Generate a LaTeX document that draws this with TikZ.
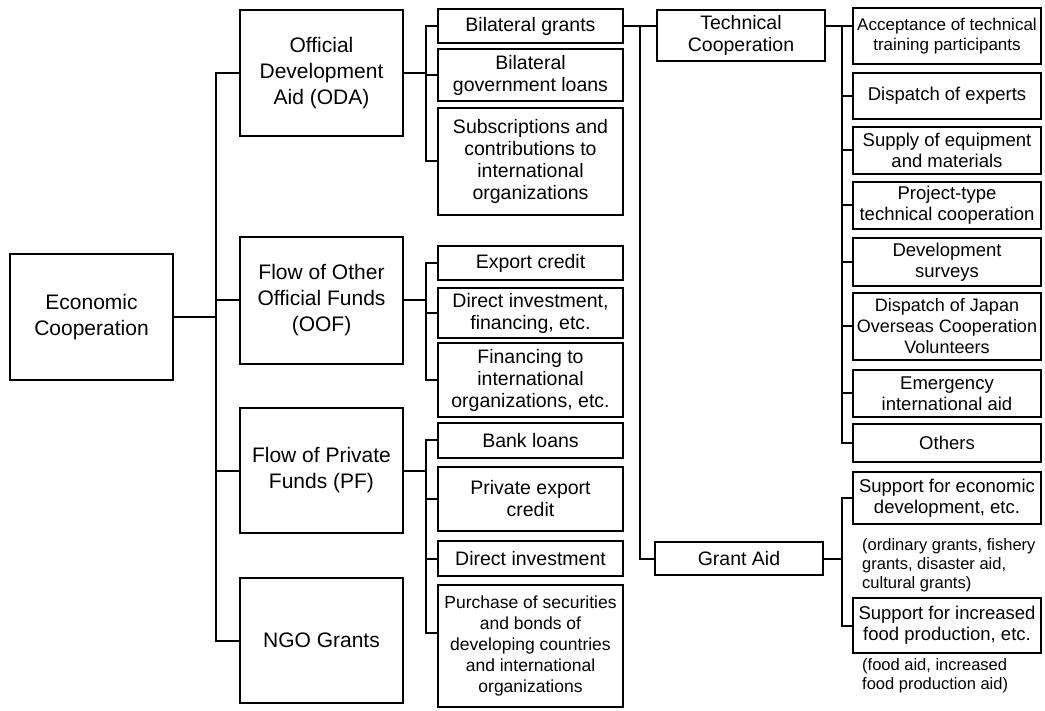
\documentclass[tikz,border=0pt]{standalone}
\usepackage{fontspec}
\setmainfont{Liberation Sans}
\usetikzlibrary{calc}
\tikzset{
 box/.style={draw, fill=white, align=center, inner sep=1pt, line width=2pt},
 lbox/.style={box, minimum width=163, font=\fontsize{21}{26}\selectfont},
 sbox/.style={box, minimum width=185, font=\fontsize{19.5}{22}\selectfont},
 mbox/.style={box, minimum width=168, font=\fontsize{19.5}{22}\selectfont},
 rbox/.style={box, minimum width=188, font=\fontsize{18.5}{21}\selectfont},
 note/.style={align=left, anchor=north west, inner sep=0pt, font=\fontsize{16.5}{19}\selectfont},
 link/.style={line width=2pt, line join=miter}
}
\begin{document}
\begin{tikzpicture}[x=1pt,y=-1pt]
\useasboundingbox (0,0) rectangle (1045,711);
% helper x positions
\coordinate (tk) at (216,0);
\coordinate (br) at (426,0);
\coordinate (vg) at (640,0);
\coordinate (vr) at (842,0);
% left
\node[lbox, minimum height=126] (econ) at (91.5,317) {Economic\\Cooperation};
\node[lbox, minimum height=126] (oda) at (321.5,73) {Official\\Development\\Aid (ODA)};
\node[lbox, minimum height=127] (oof) at (321.5,300.5) {Flow of Other\\Official Funds\\(OOF)};
\node[lbox, minimum height=125] (pf) at (321.5,470.5) {Flow of Private\\Funds (PF)};
\node[lbox, minimum height=125] (ngo) at (321.5,640.5) {NGO Grants};
% sub column
\node[sbox, minimum height=34] (bg) at (530.5,26) {Bilateral grants};
\node[sbox, minimum height=52] (bgl) at (530.5,75) {Bilateral\\government loans};
\node[sbox, minimum height=107] (subs) at (530.5,161.5) {Subscriptions and\\contributions to\\international\\organizations};
\node[sbox, minimum height=34] (exp) at (530.5,263) {Export credit};
\node[sbox, minimum height=50] (dif) at (530.5,313) {Direct investment,\\financing, etc.};
\node[sbox, minimum height=74] (fin) at (530.5,380) {Financing to\\international\\organizations, etc.};
\node[sbox, minimum height=35] (bank) at (530.5,440.5) {Bank loans};
\node[sbox, minimum height=64] (pec) at (530.5,499) {Private export\\credit};
\node[sbox, minimum height=35] (dinv) at (530.5,558.5) {Direct investment};
\node[sbox, minimum height=122, font=\fontsize{17.5}{21}\selectfont] (pur) at (530.5,646) {Purchase of securities\\and bonds of\\developing countries\\and international\\organizations};
% middle
\node[mbox, minimum height=51] (tech) at (741,35.5) {Technical\\Cooperation};
\node[mbox, minimum height=33] (grant) at (739,558.5) {Grant Aid};
% right
\node[rbox, minimum height=56, font=\fontsize{17}{20}\selectfont] (acc) at (947,36) {Acceptance of technical\\training participants};
\node[rbox, minimum height=46] (dex) at (947,96) {Dispatch of experts};
\node[rbox, minimum height=47] (sup) at (947,150.5) {Supply of equipment\\and materials};
\node[rbox, minimum height=47] (proj) at (947,205.5) {Project-type\\technical cooperation};
\node[rbox, minimum height=48] (dev) at (947,262) {Development\\surveys};
\node[rbox, minimum height=67, font=\fontsize{18}{21}\selectfont] (jap) at (947,326.5) {Dispatch of Japan\\Overseas Cooperation\\Volunteers};
\node[rbox, minimum height=47] (emg) at (947,393.5) {Emergency\\international aid};
\node[rbox, minimum height=38] (oth) at (947,443) {Others};
\node[rbox, minimum height=52] (sec) at (947,498) {Support for economic\\development, etc.};
\node[rbox, minimum height=55] (sfp) at (947,625.5) {Support for increased\\food production, etc.};
\node[note] (n1) at (862,538) {(ordinary grants, fishery\\grants, disaster aid,\\cultural grants)};
\node[note] (n2) at (862,658) {(food aid, increased\\food production aid)};
% trunk
\draw[link] (econ.east) -- (econ.east -| tk);
\draw[link] (oda.west) -- (oda.west -| tk) |- (ngo.west);
\draw[link] (oof.west) -- (oof.west -| tk);
\draw[link] (pf.west) -- (pf.west -| tk);
% ODA bracket
\draw[link] (bg.west) -- (bg.west -| br) |- (subs.west);
\draw[link] (bgl.west) -- (bgl.west -| br);
\draw[link] (oda.east) -- (oda.east -| br);
% OOF bracket
\draw[link] (exp.west) -- (exp.west -| br) |- (fin.west);
\draw[link] (dif.west) -- (dif.west -| br);
\draw[link] (oof.east) -- (oof.east -| br);
% PF bracket
\coordinate (purc) at ($(pur.west)+(0,-13)$);
\draw[link] (bank.west) -- (bank.west -| br) |- (purc);
\draw[link] (pec.west) -- (pec.west -| br);
\draw[link] (dinv.west) -- (dinv.west -| br);
\draw[link] (pf.east) -- (pf.east -| br);
% middle
\draw[link] (bg.east) -- (bg.east -| tech.west);
\draw[link] (bg.east -| vg) |- (grant.west);
% technical cooperation bracket
\draw[link] (bg.east -| tech.east) -- (bg.east -| acc.west);
\draw[link] (bg.east -| vr) |- (oth.west);
\foreach \n in {dex,sup,proj,dev,jap,emg}{
  \draw[link] (\n.west) -- (\n.west -| vr);
}
% grant aid bracket
\draw[link] (grant.east) -- (grant.east -| vr);
\draw[link] (sec.west) -- (sec.west -| vr) |- (sfp.west);
\end{tikzpicture}
\end{document}
